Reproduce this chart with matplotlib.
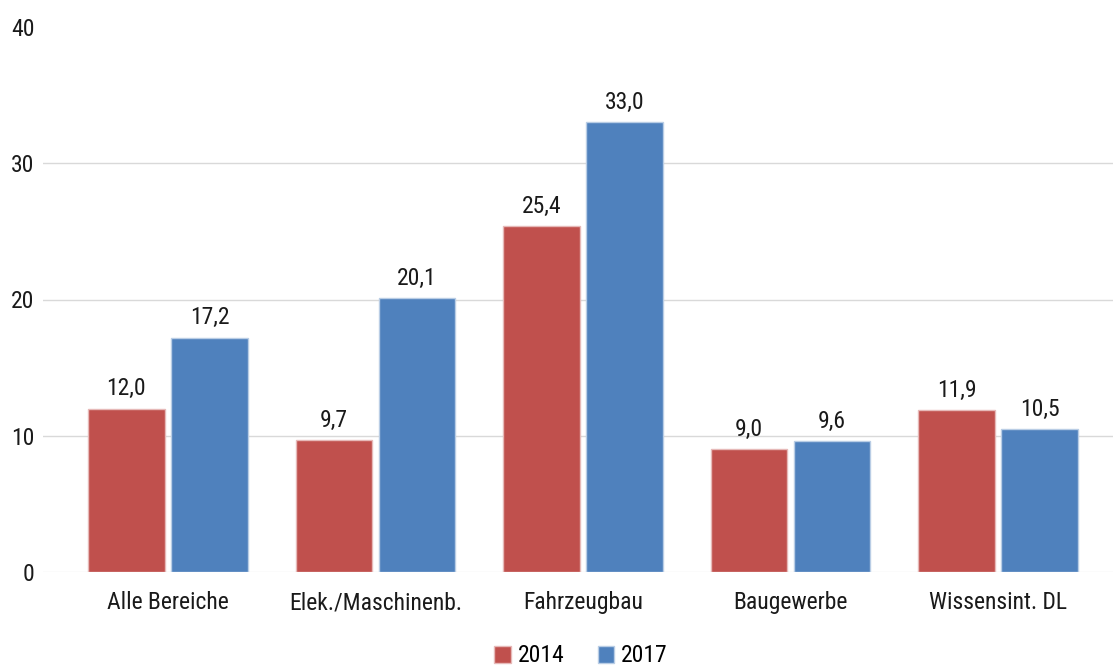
import matplotlib
matplotlib.use("Agg")
import matplotlib.pyplot as plt
import numpy as np
from matplotlib.patches import Patch

plt.rcParams["font.family"] = ["Roboto Condensed", "Archivo Narrow", "Liberation Sans", "DejaVu Sans"]

categories = ["Alle Bereiche", "Elek./Maschinenb.", "Fahrzeugbau", "Baugewerbe", "Wissensint. DL"]
values_2014 = [12.0, 9.7, 25.4, 9.0, 11.9]
values_2017 = [17.2, 20.1, 33.0, 9.6, 10.5]
years = ["2014", "2017"]

red = "#C0504D"
blue = "#4F81BD"
txt = "#1a1a1a"

fig = plt.figure(figsize=(11.13, 6.66), dpi=100)
ax = fig.add_axes([43 / 1113, 1 - 572 / 666, 1 - 43 / 1113, (572 - 27) / 666])

x = np.arange(len(categories))
w = 0.37
b1 = ax.bar(x - 0.2, values_2014, w, color=red, edgecolor="#E6B9B8", linewidth=1, zorder=3)
b2 = ax.bar(x + 0.2, values_2017, w, color=blue, edgecolor="#B9CDE5", linewidth=1, zorder=3)

# Wertebeschriftung ueber den Balken (deutsches Dezimalkomma)
for bars in (b1, b2):
    for r in bars:
        v = r.get_height()
        ax.annotate(f"{v:.1f}".replace(".", ","), (r.get_x() + r.get_width() / 2, v),
                    xytext=(0, 9.5), textcoords="offset points",
                    ha="center", va="baseline", fontsize=17, color=txt)

ax.set_xlim(-0.602, 4.554)
ax.set_ylim(0, 40)
ax.set_yticks([0, 10, 20, 30, 40])
ax.yaxis.grid(True, color="#D9D9D9", linewidth=1, zorder=0)
ax.set_axisbelow(True)
glines = ax.get_ygridlines()
glines[-1].set_visible(False)
glines[0].set_color("#EFEFEF")
for s in ax.spines.values():
    s.set_visible(False)
ax.tick_params(axis="both", length=0, labelsize=17, colors=txt)
ax.tick_params(axis="y", pad=6)
ax.tick_params(axis="x", pad=14)
ax.set_xticks(x)
ax.set_xticklabels(categories)

handles = [Patch(facecolor=red, edgecolor="#E6B9B8"), Patch(facecolor=blue, edgecolor="#B9CDE5")]
fig.legend(handles, years, loc="center", bbox_to_anchor=(581 / 1113, 1 - 656 / 666),
           ncol=2, frameon=False, fontsize=17, handlelength=0.7, handleheight=0.7,
           handletextpad=0.3, columnspacing=1.4, borderpad=0.1)

fig.savefig("out.png", dpi=100)
